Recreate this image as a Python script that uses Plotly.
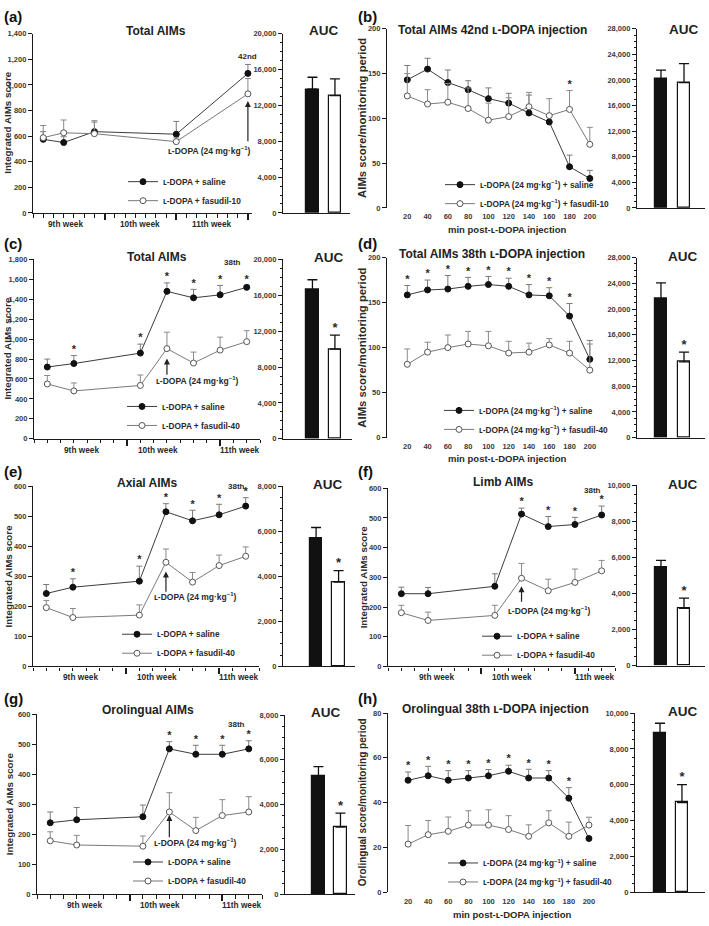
import plotly.graph_objects as go

W, H = 709, 926
FONT = "Liberation Sans, Arial, Helvetica, sans-serif"
AXC = "#1a1a1a"
TXT = "#2a2a2a"
LD = "ʟ-DOPA"
DOSE = "(24 mg·kg<sup>−1</sup>)"

# ---------------- data ----------------
# (a) Total AIMs, fasudil-10, chronic
a_days = [1, 3, 6, 14, 21]
a_saline = [575, 550, 635, 615, 1090]
a_saline_se = [60, 45, 85, 100, 70]
a_fas = [588, 626, 619, 557, 930]
a_fas_se = [95, 100, 90, 30, 120]
a_stars = [0, 0, 0, 0, 0]
a_auc = [13800, 13100]
a_auc_se = [1340, 1850]
a_auc_star = 0

# (b) Total AIMs 42nd injection time course
minutes = [20, 40, 60, 80, 100, 120, 140, 160, 180, 200]
b_saline = [143, 155, 140, 132, 122, 117, 106, 96, 46, 33]
b_saline_se = [16, 12, 14, 10, 12, 11, 20, 8, 13, 9]
b_fas = [125, 116, 118, 111, 98, 102, 113, 103, 110, 71]
b_fas_se = [25, 16, 21, 23, 19, 21, 16, 19, 21, 19]
b_stars = [0, 0, 0, 0, 0, 0, 0, 0, 1, 0]
b_auc = [20200, 19600]
b_auc_se = [1350, 2950]
b_auc_star = 0

# (c) Total AIMs, fasudil-40, chronic
days40 = [1, 3, 8, 10, 12, 14, 16]
c_saline = [720, 755, 860, 1480, 1415, 1445, 1520]
c_saline_se = [80, 80, 90, 85, 85, 95, 20]
c_fas = [550, 480, 535, 905, 760, 890, 975]
c_fas_se = [85, 80, 105, 165, 110, 130, 110]
c_stars = [0, 1, 1, 1, 1, 1, 1]
c_auc = [16600, 10000]
c_auc_se = [1140, 1550]
c_auc_star = 1

# (d) Total AIMs 38th injection time course
d_saline = [158.5, 164, 165, 168, 170, 168, 158.5, 157.5, 135, 87]
d_saline_se = [10.5, 11, 15, 10, 9, 9, 11.5, 9, 14, 21]
d_fas = [81.5, 95, 100, 104, 102, 94, 95, 103, 94, 75]
d_fas_se = [17, 11, 14, 14, 16, 13, 10, 7, 13, 29]
d_stars = [1, 1, 1, 1, 1, 1, 1, 1, 1, 0]
d_auc = [21600, 11800]
d_auc_se = [2450, 1500]
d_auc_star = 1

# (e) Axial AIMs
e_saline = [243, 264, 284, 515, 485, 505, 534]
e_saline_se = [30, 28, 50, 27, 35, 35, 28]
e_fas = [196, 163, 171, 347, 281, 336, 367]
e_fas_se = [24, 30, 34, 44, 32, 35, 31]
e_stars = [0, 1, 1, 1, 1, 1, 1]
e_auc = [5700, 3750]
e_auc_se = [470, 510]
e_auc_star = 1

# (f) Limb AIMs
f_saline = [245, 245, 270, 513, 471, 478, 510]
f_saline_se = [22, 21, 42, 20, 34, 24, 30]
f_fas = [181, 155, 172, 297, 255, 283, 322]
f_fas_se = [25, 28, 34, 50, 39, 45, 35]
f_stars = [0, 0, 0, 1, 1, 1, 1]
f_auc = [5430, 3170]
f_auc_se = [400, 570]
f_auc_star = 1

# (g) Orolingual AIMs
g_saline = [238, 248, 258, 484, 466, 466, 484]
g_saline_se = [36, 41, 39, 24, 30, 30, 27]
g_fas = [178, 164, 160, 274, 212, 262, 274]
g_fas_se = [30, 32, 34, 64, 44, 53, 51]
g_stars = [0, 0, 0, 1, 1, 1, 1]
g_auc = [5260, 3000]
g_auc_se = [440, 620]
g_auc_star = 1

# (h) Orolingual 38th injection time course
h_saline = [50, 52, 50, 51, 52, 54, 51, 51, 42, 24]
h_saline_se = [3.7, 4.2, 4.3, 3.3, 2.8, 2.7, 3.9, 3.3, 4.7, 0.5]
h_fas = [21.5, 25.7, 27.2, 30, 30, 28, 25, 31, 25, 30]
h_fas_se = [8.3, 6.3, 6.4, 6.4, 6.8, 6.2, 5.1, 5.4, 6.3, 3.5]
h_stars = [1, 1, 1, 1, 1, 1, 1, 1, 1, 0]
h_auc = [8880, 5010]
h_auc_se = [550, 1000]
h_auc_star = 1

week_labels = ["9th week", "10th week", "11th week"]
minute_ticks = [20, 40, 60, 80, 100, 120, 140, 160, 180, 200]

# ---------------- helpers ----------------
def fx(p):
    return p / W


def fy(p):
    return 1 - p / H


def names(n):
    s = "" if n == 1 else str(n)
    return "xaxis" + s, "yaxis" + s, "x" + s, "y" + s


fig = go.Figure()
layout = {}
annotations = []

base_axis = dict(showgrid=False, zeroline=False, showline=True, linecolor=AXC,
                 linewidth=1.2, ticks="outside", tickcolor=AXC, ticklen=4,
                 tickwidth=1, tickfont=dict(size=7.5, color="#3a3a3a"))


def text_ann(text, x, y, size, xref="paper", yref="paper", xanchor="center",
             yanchor="middle", angle=0, color=TXT):
    annotations.append(dict(text=text, x=x, y=y, xref=xref, yref=yref,
                            xanchor=xanchor, yanchor=yanchor, showarrow=False,
                            textangle=angle, font=dict(size=size, color=color)))


def line_panel(n, box, xvals, sal, sal_se, fas, fas_se, stars, yrange, ydtick,
               xrange, kind, legend_id, names_pair, legend_pos, week_pos=None,
               major=None):
    xa, ya, xr, yr = names(n)
    x0, x1, yt, yb = box
    xaxis = dict(base_axis, domain=[fx(x0), fx(x1)], anchor=yr, range=xrange)
    if kind == "weeks":
        xaxis.update(tickmode="array", tickvals=major, showticklabels=False,
                     ticklen=6, tickwidth=2,
                     minor=dict(tickmode="linear", tick0=0, dtick=1,
                                ticks="outside", ticklen=3.5, tickwidth=1,
                                tickcolor=AXC))
        for lab, xp in zip(week_labels, week_pos):
            annotations.append(dict(text=lab, x=xp, y=0, xref=xr,
                                    yref=yr + " domain", yshift=-4,
                                    yanchor="top", xanchor="center",
                                    showarrow=False, font=dict(size=8.3, color=TXT)))
    else:
        xaxis.update(tickmode="array", tickvals=minute_ticks, ticks="",
                     showline=False, ticklabelstandoff=3)
    layout[xa] = xaxis
    layout[ya] = dict(base_axis, domain=[fy(yb), fy(yt)], anchor=xr,
                      range=yrange, dtick=ydtick, tickformat=",d")
    nz = [0] * len(xvals)
    fig.add_trace(go.Scatter(
        x=xvals, y=sal, xaxis=xr, yaxis=yr, mode="lines+markers",
        name=names_pair[0], legend=legend_id,
        line=dict(color="#3c3c3c", width=1),
        marker=dict(symbol="circle", size=6, color="#111111",
                    line=dict(color="#111111", width=1)),
        error_y=dict(type="data", array=sal_se, arrayminus=nz, symmetric=False,
                     color="#7a7a7a", thickness=1, width=3)))
    fig.add_trace(go.Scatter(
        x=xvals, y=fas, xaxis=xr, yaxis=yr, mode="lines+markers",
        name=names_pair[1], legend=legend_id,
        line=dict(color="#7a7a7a", width=1),
        marker=dict(symbol="circle", size=6, color="white",
                    line=dict(color="#555555", width=1)),
        error_y=dict(type="data", array=fas_se, arrayminus=nz, symmetric=False,
                     color="#8a8a8a", thickness=1, width=3)))
    sx, sy = [], []
    for xv, s, se, f, fe, flag in zip(xvals, sal, sal_se, fas, fas_se, stars):
        if flag:
            sx.append(xv)
            sy.append(max(s + se, f + fe))
    if sx:
        fig.add_trace(go.Scatter(
            x=sx, y=sy, xaxis=xr, yaxis=yr, mode="text", text=["*"] * len(sx),
            textposition="top center", textfont=dict(size=11, color=TXT),
            showlegend=False, hoverinfo="skip", cliponaxis=False))
    lx, ly = legend_pos
    layout[legend_id] = dict(x=fx(lx - 40), y=fy(ly), xanchor="left",
                             yanchor="middle", bgcolor="rgba(0,0,0,0)",
                             font=dict(size=8.3, color=TXT), tracegroupgap=0)


def auc_panel(n, box, vals, se, star, yrange, ydtick, minor_dtick, xrange):
    xa, ya, xr, yr = names(n)
    x0, x1, yt, yb = box
    layout[xa] = dict(base_axis, domain=[fx(x0), fx(x1)], anchor=yr,
                      range=xrange, ticks="", showticklabels=False)
    layout[ya] = dict(base_axis, domain=[fy(yb), fy(yt)], anchor=xr,
                      range=yrange, dtick=ydtick, tickformat=",d",
                      minor=dict(dtick=minor_dtick, ticks="outside", ticklen=2,
                                 tickcolor=AXC))
    fig.add_trace(go.Bar(
        x=[0, 1], y=vals, xaxis=xr, yaxis=yr, width=0.56, showlegend=False,
        marker=dict(color=["#111111", "white"], line=dict(color="#111111", width=1.2)),
        error_y=dict(type="data", array=se, arrayminus=[0, 0], symmetric=False,
                     color="#111111", thickness=1.3, width=5)))
    if star:
        fig.add_trace(go.Scatter(
            x=[1], y=[vals[1] + se[1]], xaxis=xr, yaxis=yr, mode="text",
            text=["*"], textposition="top center",
            textfont=dict(size=13, color=TXT), showlegend=False,
            hoverinfo="skip", cliponaxis=False))


sal_short = LD + " + saline"
sal_long = LD + " " + DOSE + " + saline"

# (a)
line_panel(1, (33, 252, 30, 211), a_days, a_saline, a_saline_se, a_fas, a_fas_se,
           a_stars, [0, 1400], 200, [0, 21.4], "weeks", "legend",
           (sal_short, LD + " + fasudil-10"), (163, 189),
           week_pos=[3.2, 10.5, 17.5], major=[7, 14, 21])
auc_panel(2, (283, 350, 30, 211), a_auc, a_auc_se, a_auc_star, [0, 20000], 4000, 1000, [-1.31, 1.67])
# (b)
line_panel(3, (387, 603, 25, 206), minutes, b_saline, b_saline_se, b_fas, b_fas_se,
           b_stars, [0, 200], 50, [0, 213], "min", "legend2",
           (sal_long, LD + " " + DOSE + " + fasudil-10"), (480, 192))
auc_panel(4, (637, 705, 25, 206), b_auc, b_auc_se, b_auc_star, [0, 28000], 4000, 1000, [-1.04, 1.91])
# (c)
line_panel(5, (34, 260, 258, 439), days40, c_saline, c_saline_se, c_fas, c_fas_se,
           c_stars, [0, 1800], 200, [0, 17], "weeks", "legend3",
           (sal_short, LD + " + fasudil-40"), (162, 416),
           week_pos=[3.6, 9.3, 15.5], major=[7, 14])
auc_panel(6, (283, 352, 258, 439), c_auc, c_auc_se, c_auc_star, [0, 20000], 4000, 1000, [-1.31, 1.76])
# (d)
line_panel(7, (387, 603, 256, 438), minutes, d_saline, d_saline_se, d_fas, d_fas_se,
           d_stars, [0, 200], 50, [0, 213], "min", "legend4",
           (sal_long, LD + " " + DOSE + " + fasudil-40"), (479, 420))
auc_panel(8, (637, 705, 256, 438), d_auc, d_auc_se, d_auc_star, [0, 28000], 4000, 1000, [-1.04, 1.91])
# (e)
line_panel(9, (33, 259, 487, 669), days40, e_saline, e_saline_se, e_fas, e_fas_se,
           e_stars, [0, 600], 100, [0, 17], "weeks", "legend5",
           (sal_short, LD + " + fasudil-40"), (157, 646),
           week_pos=[3.6, 9.3, 15.5], major=[7, 14])
auc_panel(10, (283, 355, 487, 669), e_auc, e_auc_se, e_auc_star, [0, 8000], 2000, 500, [-1.47, 1.73])
# (f)
line_panel(11, (388, 615, 489, 669), days40, f_saline, f_saline_se, f_fas, f_fas_se,
           f_stars, [0, 600], 100, [0, 17], "weeks", "legend6",
           (sal_short, LD + " + fasudil-40"), (517, 648),
           week_pos=[3.6, 9.3, 15.5], major=[7, 14])
auc_panel(12, (637, 705, 486, 668), f_auc, f_auc_se, f_auc_star, [0, 10000], 2000, 500, [-1.04, 1.91])
# (g)
line_panel(13, (37, 262, 717, 899), days40, g_saline, g_saline_se, g_fas, g_fas_se,
           g_stars, [0, 600], 100, [0, 17], "weeks", "legend7",
           (sal_short, LD + " + fasudil-40"), (168, 876),
           week_pos=[3.6, 9.3, 15.5], major=[7, 14])
auc_panel(14, (285, 355, 718, 899), g_auc, g_auc_se, g_auc_star, [0, 8000], 2000, 500, [-1.52, 1.66])
# (h)
line_panel(15, (388, 602, 716, 897), minutes, h_saline, h_saline_se, h_fas, h_fas_se,
           h_stars, [0, 80], 20, [0, 213], "min", "legend8",
           (sal_long, LD + " " + DOSE + " + fasudil-40"), (483, 877))
auc_panel(16, (635, 705, 716, 897), h_auc, h_auc_se, h_auc_star, [0, 10000], 2000, 500, [-1.14, 2.05])

# ---------------- text ----------------
# panel letters
for lab, px, py in [("(a)", 2, 2), ("(b)", 356, 2), ("(c)", 2, 231), ("(d)", 356, 231),
                    ("(e)", 2, 461), ("(f)", 356, 461), ("(g)", 2, 691), ("(h)", 356, 691)]:
    text_ann(lab, fx(px), fy(py), 15, xanchor="left", yanchor="top", color="#111")

# titles
for t, px, py in [("Total AIMs", 156, 27), ("Total AIMs 42nd " + LD + " injection", 492, 26),
                  ("Total AIMs", 157, 255), ("Total AIMs 38th " + LD + " injection", 492, 252),
                  ("Axial AIMs", 147, 484), ("Limb AIMs", 503, 483),
                  ("Orolingual AIMs", 148, 713), ("Orolingual 38th " + LD + " injection", 495, 712)]:
    text_ann(t, fx(px), fy(py), 12, color="#222")
for px, py in [(323, 27), (683, 26), (328, 256), (682, 255), (327, 485), (682, 485), (325, 715), (682, 714)]:
    text_ann("AUC", fx(px), fy(py), 13.5, color="#222")

# y-axis titles
for t, px, py, sz in [("Integrated AIMs score", 8, 120, 9.8), ("AIMs score/monitoring period", 362, 115, 11.3),
                      ("Integrated AIMs score", 8, 348, 9.8), ("AIMs score/monitoring period", 362, 347, 11.3),
                      ("Integrated AIMs score", 8, 578, 9.8), ("Integrated AIMs score", 363, 579, 9.8),
                      ("Integrated AIMs score", 9, 808, 9.8), ("Orolingual score/monitoring period", 362, 806, 10)]:
    text_ann(t, fx(px), fy(py), sz, angle=-90)

# x-axis titles of the time-course panels
for px, py in [(507, 228), (507, 459), (512, 919)]:
    text_ann("min post-" + LD + " injection", fx(px), fy(py), 9.5)

# injection labels and arrows
text_ann("42nd", 21, 1225, 8, xref="x", yref="y")
text_ann("38th", 14.9, 1770, 8, xref="x5", yref="y5")
text_ann("38th", 15.3, 600, 8, xref="x9", yref="y9")
text_ann("38th", 15.3, 593, 8, xref="x11", yref="y11")
text_ann("38th", 15.1, 564, 8, xref="x13", yref="y13")

dose_label = LD + " " + DOSE
text_ann(dose_label, 17.2, 487, 8.5, xref="x", yref="y")
text_ann(dose_label, 12.3, 587, 8.5, xref="x5", yref="y5")
text_ann(dose_label, 12.2, 234, 8.5, xref="x9", yref="y9")
text_ann(dose_label, 12.1, 187, 8.5, xref="x11", yref="y11")
text_ann(dose_label, 12.0, 171, 8.5, xref="x13", yref="y13")

for xr, yr, xv, y_tail, y_head in [("x", "y", 21, 549, 874), ("x5", "y5", 10, 627, 806),
                                   ("x9", "y9", 10, 244, 316), ("x11", "y11", 10, 213, 270),
                                   ("x13", "y13", 10, 185, 264)]:
    annotations.append(dict(text="", x=xv, y=y_head, ax=xv, ay=y_tail, xref=xr, yref=yr,
                            axref=xr, ayref=yr, showarrow=True, arrowhead=2,
                            arrowsize=1, arrowwidth=1.2, arrowcolor="#222"))

layout.update(
    width=W, height=H, margin=dict(l=0, r=0, t=0, b=0),
    paper_bgcolor="white", plot_bgcolor="white",
    font=dict(family=FONT, size=9, color=TXT, weight="bold"),
    annotations=annotations, hovermode=False, bargap=0,
)
fig.update_layout(**layout)
fig.write_html("out.html", config={"displayModeBar": False},
               post_script="document.body.style.margin='0';document.body.style.overflow='hidden';")
